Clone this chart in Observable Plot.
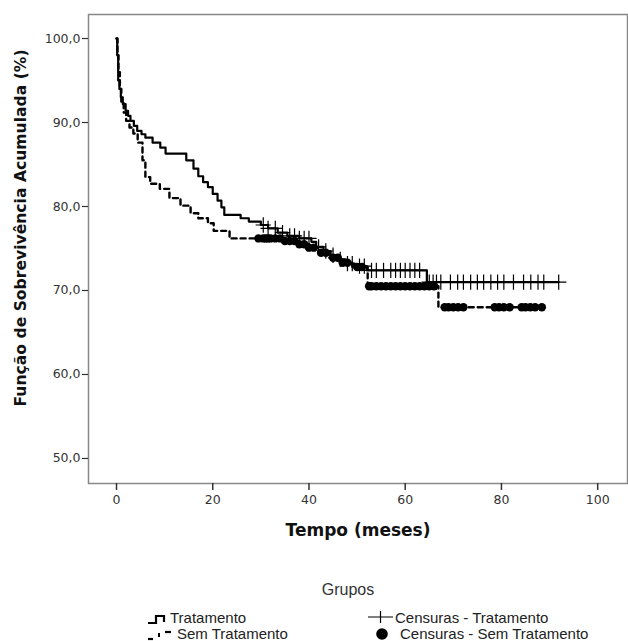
<!DOCTYPE html>
<html><head><meta charset="utf-8">
<script src="https://cdn.jsdelivr.net/npm/d3@7"></script>
<script src="https://cdn.jsdelivr.net/npm/@observablehq/plot@0.6"></script>
<style>
body{margin:0;background:#fff;font-family:Arial,"Liberation Sans",sans-serif;}
#wrap{position:relative;width:628px;height:641px;overflow:hidden;}
.lg{position:absolute;font-size:15px;line-height:15px;color:#222;white-space:nowrap;}
.ic{position:absolute;}
</style></head><body><div id="wrap"></div>
<script>
// Kaplan-Meier step data (time in months, cumulative survival %)
const tratTime = [0, 0.15, 0.35, 0.6, 0.9, 1.3, 1.9, 2.4, 2.9, 3.6, 4.3, 5.2, 6.0, 7.5, 9.1, 10.2, 14.5, 16.0, 17.0, 18.0, 19.0, 20.0, 21.0, 21.8, 22.4, 25.8, 27.5, 30.0, 31.5, 33.5, 35.5, 38.0, 40.5, 41.5, 43.0, 44.5, 46.0, 47.5, 49.5, 52.0, 64.5];
const tratSurv = [100, 98.0, 95.0, 94.0, 93.0, 92.2, 91.4, 90.8, 90.2, 89.6, 89.0, 88.6, 88.2, 87.6, 87.0, 86.3, 85.5, 84.5, 83.6, 82.9, 82.3, 81.5, 80.7, 79.9, 79.0, 78.6, 78.2, 77.8, 77.4, 76.9, 76.5, 76.2, 75.8, 75.2, 74.7, 74.2, 73.7, 73.2, 72.9, 72.4, 71.0];
const tratEnd = 91.9;
const semTime = [0, 0.2, 0.4, 0.7, 1.0, 1.5, 2.0, 2.7, 3.5, 4.4, 5.4, 6.0, 7.0, 9.0, 11.0, 13.3, 15.4, 17.0, 19.0, 20.2, 23.5, 35.0, 37.5, 40.0, 42.0, 44.0, 46.5, 49.0, 52.2, 66.9];
const semSurv = [100, 98.0, 96.0, 94.0, 92.5, 91.2, 90.2, 89.4, 88.7, 87.6, 85.5, 83.5, 82.7, 82.1, 81.0, 80.1, 79.2, 78.6, 78.0, 77.1, 76.2, 75.9, 75.5, 75.1, 74.5, 73.9, 73.3, 72.8, 70.5, 68.0];
const semEnd = 88.4;
// censoring times
const tratCensTimes = [30.5, 31.5, 33, 34.5, 36, 37, 38, 39, 40, 42, 43.5, 45, 46.5, 48, 49, 50.5, 51.5, 53, 54, 55.5, 57, 58, 59, 60, 61, 62, 63, 65, 65.8, 66.5, 67.4, 69.4, 70.9, 72.1, 73.6, 75.0, 76.3, 77.8, 79.2, 80.5, 82.5, 84.6, 86.1, 87.6, 88.8, 91.9];
const semCensTimes = [29.5, 30.5, 31, 31.5, 32, 33, 34, 35, 36, 37, 38, 39, 40, 41, 42.5, 43.5, 45, 46, 47, 48, 50, 51, 52.5, 53, 54, 55, 56, 57, 58, 59, 60, 61, 62, 63, 64, 65, 66, 68.2, 69, 70, 71, 72.1, 78.6, 79.5, 80.5, 81.7, 84.2, 85, 86, 87, 88.4];
const xTicks = [0, 20, 40, 60, 80, 100];
const yTicks = [50, 60, 70, 80, 90, 100];
const xLabel = "Tempo (meses)";
const yLabel = "Função de Sobrevivência Acumulada (%)";
const legendTitle = "Grupos";
const groupNames = ["Tratamento", "Sem Tratamento"];
const censorNames = ["Censuras - Tratamento", "Censuras - Sem Tratamento"];

function stepAt(T, S, t) { let v = S[0]; for (let i = 0; i < T.length; i++) { if (T[i] <= t) v = S[i]; } return v; }
function lineData(T, S, end) { const d = T.map((t, i) => ({t, s: S[i]})); d.push({t: end, s: S[S.length - 1]}); return d; }
const tratLine = lineData(tratTime, tratSurv, tratEnd);
const semLine = lineData(semTime, semSurv, semEnd);
const tratCens = tratCensTimes.map(t => ({t, s: stepAt(tratTime, tratSurv, t)}));
const semCens = semCensTimes.map(t => ({t, s: stepAt(semTime, semSurv, t)}));

const plot = Plot.plot({
  width: 628, height: 560,
  marginLeft: 88, marginRight: 1, marginTop: 14, marginBottom: 77,
  x: {domain: [-5.82, 106.2]},
  y: {domain: [47.02, 102.86]},
  style: {fontFamily: "'DejaVu Sans', sans-serif", fontSize: "12.5px", color: "#333", background: "#fff"},
  marks: [
    Plot.frame({stroke: "#888", strokeWidth: 1.5}),
    Plot.axisX({ticks: xTicks, tickSize: 7, tickPadding: 5, label: null, tickFormat: d => String(d), stroke: "#333", strokeWidth: 1.5}),
    Plot.axisY({ticks: yTicks, tickSize: 6, tickPadding: 2, label: null, tickFormat: d => d.toFixed(1).replace(".", ","), stroke: "#333", strokeWidth: 1.2}),
    Plot.line(semLine, {x: "t", y: "s", curve: "step-after", stroke: "#000", strokeWidth: 2.4, strokeDasharray: "5,4"}),
    Plot.line(tratLine, {x: "t", y: "s", curve: "step-after", stroke: "#000", strokeWidth: 2.2}),
    Plot.dot(semCens, {x: "t", y: "s", r: 4.2, fill: "#000", stroke: null}),
    Plot.dot(tratCens, {x: "t", y: "s", symbol: "plus", r: 5, stroke: "#000", strokeWidth: 1.2}),
    Plot.text([xLabel], {frameAnchor: "bottom", dy: 52, fontWeight: "bold", fontSize: 17, fill: "#111"}),
    Plot.text([yLabel], {frameAnchor: "left", textAnchor: "middle", rotate: -90, dx: -68, dy: -21, fontWeight: "bold", fontSize: 15.6, fill: "#111"})
  ]
});
const wrap = document.getElementById("wrap");
plot.style.position = "absolute"; plot.style.left = "0"; plot.style.top = "0";
wrap.appendChild(plot);

function add(html, left, top, cls) {
  const d = document.createElement("div"); d.className = cls; d.style.left = left + "px"; d.style.top = top + "px"; d.innerHTML = html; wrap.appendChild(d); return d;
}
const g = add(legendTitle, 0, 582, "lg"); g.style.width = "696px"; g.style.textAlign = "center"; g.style.fontSize = "16px"; g.style.lineHeight = "16px"; g.style.color = "#333";
add(`<svg width="24" height="12"><path d="M1,10H9V3H17V9" fill="none" stroke="#000" stroke-width="2.2"/></svg>`, 147, 611, "ic");
add(groupNames[0], 170, 610, "lg");
add(`<svg width="30" height="12"><path d="M1,10H6" stroke="#000" stroke-width="2.2"/><path d="M12,4V8" stroke="#000" stroke-width="2"/><path d="M18,3H24" stroke="#000" stroke-width="2.2"/></svg>`, 147, 627, "ic");
add(groupNames[1], 177, 626, "lg");
add(`<svg width="28" height="14"><path d="M1,7H26M13.5,1V13" stroke="#000" stroke-width="1.2"/></svg>`, 367, 610, "ic");
add(censorNames[0], 395, 610, "lg");
add(`<svg width="14" height="14"><circle cx="7" cy="7" r="5.8" fill="#000"/></svg>`, 375, 627, "ic");
add(censorNames[1], 400, 626, "lg");
</script></body></html>
